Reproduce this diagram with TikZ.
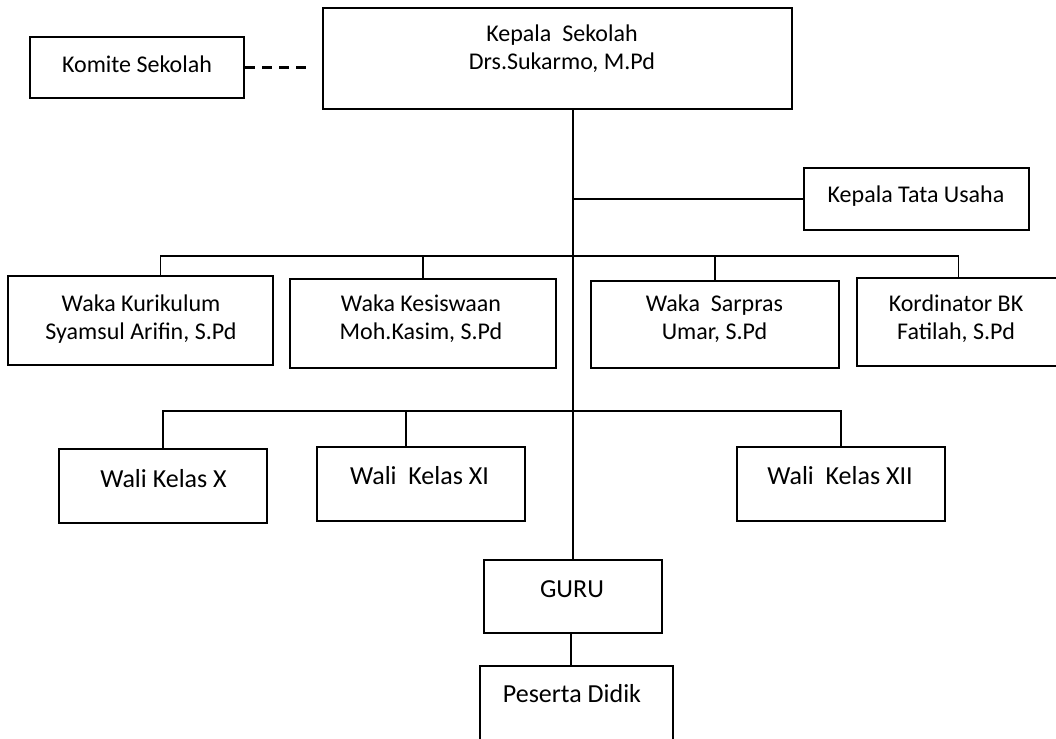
\documentclass[tikz,border=0pt]{standalone}
\usepackage{fontspec}
\setmainfont{Carlito}
\usetikzlibrary{positioning}

\begin{document}
\begin{tikzpicture}[x=1pt, y=-1pt,
        box/.style={draw, line width=2pt, inner sep=0pt},
        txt/.style={align=center, inner sep=0pt, font=\fontsize{24}{28}\selectfont},
        bigtxt/.style={txt, font=\fontsize{26}{30}\selectfont},
        link/.style={line width=1.6pt},
        dashlink/.style={line width=2.5pt, dash pattern=on 10pt off 7pt}
    ]
      \useasboundingbox (0,0) rectangle (1056,738);

      % Top: head and committee
      \node[box, minimum width=469, minimum height=101] (kepala) at (557.5,58.5) {};
      \node[txt] (kepalaT) at (562,49) {Kepala\ \ Sekolah\\Drs.Sukarmo, M.Pd};
      \node[box, minimum width=214, minimum height=61] (komite) at (137,67.5) {};
      \node[txt] (komiteT) at (137,64) {Komite Sekolah};
      \draw[dashlink, shorten >=13pt] (komite.east) -- (kepala.west |- komite.east);

      % Administration
      \node[box, minimum width=225, minimum height=62] (ktu) at (916.5,199) {};
      \node[txt] (ktuT) at (916,196) {Kepala Tata Usaha};

      % Vice principals
      \node[box, minimum width=265, minimum height=89] (kurikulum) at (140.5,320.5) {};
      \node[txt] (kurikulumT) at (141,319) {Waka Kurikulum\\Syamsul Arifin, S.Pd};
      \node[box, minimum width=266, minimum height=89] (kesiswaan) at (423,323.5) {};
      \node[txt] (kesiswaanT) at (421,319) {Waka Kesiswaan\\Moh.Kasim, S.Pd};
      \node[box, minimum width=248, minimum height=87] (sarpras) at (715,324.5) {};
      \node[txt] (sarprasT) at (714.5,319) {Waka\ \ Sarpras\\Umar, S.Pd};
      \node[box, minimum width=203, minimum height=88] (bk) at (958.5,322) {};
      \node[txt] (bkT) at (956,319) {Kordinator BK\\Fatilah, S.Pd};

      % Class teachers
      \node[box, minimum width=208, minimum height=74] (walix) at (163,486) {};
      \node[bigtxt] (walixT) at (163.5,479) {Wali Kelas X};
      \node[box, minimum width=208, minimum height=74] (walixi) at (421,484) {};
      \node[bigtxt] (walixiT) at (419.5,476) {Wali\ \ Kelas XI};
      \node[box, minimum width=208, minimum height=74] (walixii) at (841,484) {};
      \node[bigtxt] (walixiiT) at (840,476) {Wali\ \ Kelas XII};

      % Teachers and students
      \node[box, minimum width=178, minimum height=73] (guru) at (573,596.5) {};
      \node[bigtxt] (guruT) at (572,589) {GURU};
      \node[box, minimum width=193, minimum height=94] (peserta) at (576.5,713) {};
      \node[bigtxt] (pesertaT) at (572,694) {Peserta Didik};

      % Lines
      \coordinate (wakabar) at (573,256);
      \coordinate (walibar) at (573,411);
      \draw[link] (kepala.south -| guru.north) -- (guru.north);
      \draw[link] (guru.north |- ktu.west) -- (ktu.west);
      \draw[link] ([xshift=20pt]kurikulum.north) |- (bk.north |- wakabar) -- (bk.north);
      \draw[link] (kesiswaan.north) -- (kesiswaan.north |- wakabar);
      \draw[link] (sarpras.north) -- (sarpras.north |- wakabar);
      \draw[link] (walix.north) |- (walixii.north |- walibar) -- (walixii.north);
      \draw[link] ([xshift=-15pt]walixi.north) -- ([xshift=-15pt]walixi.north |- walibar);
      \draw[link] ([xshift=-2pt]guru.south) -- ([xshift=-2pt]guru.south |- peserta.north);
    \end{tikzpicture}
\end{document}
